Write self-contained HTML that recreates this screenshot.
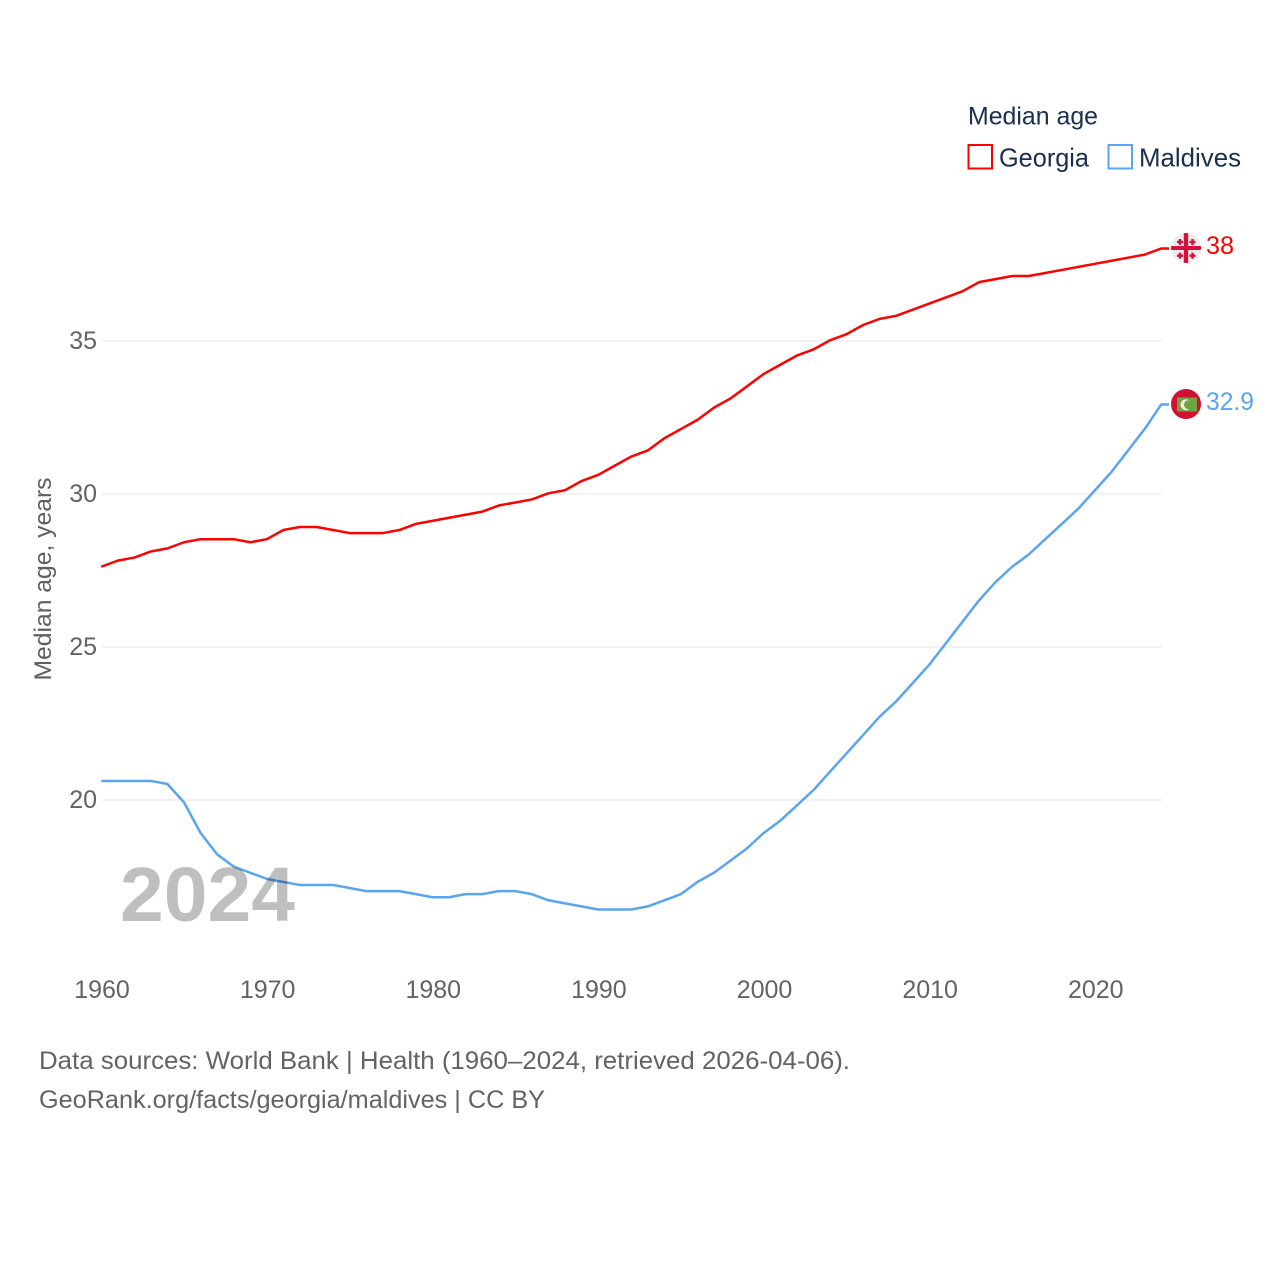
<!DOCTYPE html>
<html lang="en">
<head>
<meta charset="utf-8">
<title>Median age: Georgia and Maldives</title>
<style>
html,body{margin:0;padding:0;background:#fff;width:1280px;height:1280px;overflow:hidden}
svg{display:block;font-family:"Liberation Sans",sans-serif}
</style>
</head>
<body>
<svg id="chart" width="1280" height="1280" viewBox="0 0 1280 1280" xmlns="http://www.w3.org/2000/svg">
  <rect width="1280" height="1280" fill="#fff"/>
  <g id="grid"></g>
  <g id="y-ticks"></g>
  <g id="x-ticks"></g>
  <text transform="translate(51 579) rotate(-90)" text-anchor="middle" font-size="24" fill="#5f5f5f" textLength="203" lengthAdjust="spacingAndGlyphs">Median age, years</text>
  <g id="series"></g>
  <text x="120" y="921" font-size="77" font-weight="bold" fill="#000" fill-opacity="0.25" textLength="175" lengthAdjust="spacingAndGlyphs">2024</text>

  <g>
    <text x="968" y="124.500" font-size="25" fill="#1a2e4f" textLength="130" lengthAdjust="spacingAndGlyphs">Median age</text>
    <rect x="968.500" y="145" width="23.500" height="23.500" fill="#fff" stroke="#ff0000" stroke-width="2"/>
    <text x="999" y="166.500" font-size="26" fill="#1a2e4f" textLength="90" lengthAdjust="spacingAndGlyphs">Georgia</text>
    <rect x="1108.500" y="145" width="23.500" height="23.500" fill="#fff" stroke="#5ba4ee" stroke-width="2"/>
    <text x="1139" y="166.500" font-size="26" fill="#1a2e4f" textLength="102" lengthAdjust="spacingAndGlyphs">Maldives</text>
  </g>

  <g id="georgia-flag">
    <clipPath id="geo-clip"><circle cx="1186" cy="248" r="15"/></clipPath>
    <circle cx="1186" cy="248" r="15" fill="#ebebeb"/>
    <g clip-path="url(#geo-clip)" fill="#d5103c">
      <rect x="1171" y="246" width="30" height="4"/>
      <rect x="1183.800" y="233" width="4.400" height="30"/>
      <rect x="1177" y="240.800" width="6" height="2.400"/>
      <rect x="1178.800" y="239" width="2.400" height="6"/>
      <rect x="1189.500" y="240.800" width="6" height="2.400"/>
      <rect x="1191.300" y="239" width="2.400" height="6"/>
      <rect x="1177" y="254.500" width="6" height="2.400"/>
      <rect x="1178.800" y="252.700" width="2.400" height="6"/>
      <rect x="1189.500" y="254.500" width="6" height="2.400"/>
      <rect x="1191.300" y="252.700" width="2.400" height="6"/>
    </g>
  </g>
  <g id="maldives-flag">
    <circle cx="1186" cy="404" r="15" fill="#d21034"/>
    <rect x="1177" y="397.500" width="20" height="14" fill="#6fa33f"/>
    <circle cx="1186" cy="404.700" r="5.500" fill="#e8eee0"/>
    <circle cx="1188.500" cy="404.700" r="4.500" fill="#6fa33f"/>
  </g>

  <text x="1206" y="254" font-size="25" fill="#ff0000" textLength="28" lengthAdjust="spacingAndGlyphs">38</text>
  <text x="1206" y="410" font-size="25" fill="#5ba4ee" textLength="48" lengthAdjust="spacingAndGlyphs">32.9</text>

  <text x="39" y="1069" font-size="25" fill="#636363" textLength="811" lengthAdjust="spacingAndGlyphs">Data sources: World Bank | Health (1960–2024, retrieved 2026-04-06).</text>
  <text x="39" y="1108" font-size="25" fill="#636363" textLength="506" lengthAdjust="spacingAndGlyphs">GeoRank.org/facts/georgia/maldives | CC BY</text>
</svg>
<script>
const startYear = 1960;
const xTickYears = [1960, 1970, 1980, 1990, 2000, 2010, 2020];
const yTickValues = [20, 25, 30, 35];
const georgiaValues = [27.6,27.8,27.9,28.1,28.2,28.4,28.5,28.5,28.5,28.4,28.5,28.8,28.9,28.9,28.8,28.7,28.7,28.7,28.8,29.0,29.1,29.2,29.3,29.4,29.6,29.7,29.8,30.0,30.1,30.4,30.6,30.9,31.2,31.4,31.8,32.1,32.4,32.8,33.1,33.5,33.9,34.2,34.5,34.7,35.0,35.2,35.5,35.7,35.8,36.0,36.2,36.4,36.6,36.9,37.0,37.1,37.1,37.2,37.3,37.4,37.5,37.6,37.7,37.8,38.0];
const maldivesValues = [20.6,20.6,20.6,20.6,20.5,19.9,18.9,18.2,17.8,17.6,17.4,17.3,17.2,17.2,17.2,17.1,17.0,17.0,17.0,16.9,16.8,16.8,16.9,16.9,17.0,17.0,16.9,16.7,16.6,16.5,16.4,16.4,16.4,16.5,16.7,16.9,17.3,17.6,18.0,18.4,18.9,19.3,19.8,20.3,20.9,21.5,22.1,22.7,23.2,23.8,24.4,25.1,25.8,26.5,27.1,27.6,28.0,28.5,29.0,29.5,30.1,30.7,31.4,32.1,32.9];

const NS = 'http://www.w3.org/2000/svg';
const xScale = year => 102 + (year - 1960) * (1162 - 102) / 64;
const yScale = value => 800 - (value - 20) * 30.6;
const lineX = year => xScale(year) - 0.8;
const lineY = value => yScale(value) - 0.7;

function makeEl(tag, attrs, parent) {
  const el = document.createElementNS(NS, tag);
  Object.keys(attrs).forEach(k => el.setAttribute(k, attrs[k]));
  parent.appendChild(el);
  return el;
}

const gridGroup = document.getElementById('grid');
const yGroup = document.getElementById('y-ticks');
yTickValues.forEach(v => {
  const line = makeEl('line', {x1: 102, x2: 1162, y1: yScale(v), y2: yScale(v), stroke: '#eeeeee', 'stroke-width': 1.6}, gridGroup);
  
  
  const label = makeEl('text', {x: 97, y: yScale(v) + 8, 'text-anchor': 'end', 'font-size': 25, fill: '#636363'}, yGroup);
  
  
  label.textContent = v;
});

const xGroup = document.getElementById('x-ticks');
xTickYears.forEach(y => {
  const label = makeEl('text', {x: xScale(y), y: 998, 'text-anchor': 'middle', 'font-size': 25, fill: '#636363'}, xGroup);
  
  
  label.textContent = y;
});

const seriesGroup = document.getElementById('series');
function drawSeries(values, colour, name) {
  const pts = values.map((v, i) => lineX(startYear + i).toFixed(2) + ',' + lineY(v).toFixed(2));
  const lastY = lineY(values[values.length - 1]).toFixed(2);
  pts.push('1169,' + lastY);
  const path = makeEl('polyline', {points: pts.join(' '), fill: 'none', stroke: colour, 'stroke-width': 2.5, 'stroke-linejoin': 'round'}, seriesGroup);
  
  
}
drawSeries(georgiaValues, '#ff0000', 'georgia-line');
drawSeries(maldivesValues, '#5ba4ee', 'maldives-line');
</script>
</body>
</html>
